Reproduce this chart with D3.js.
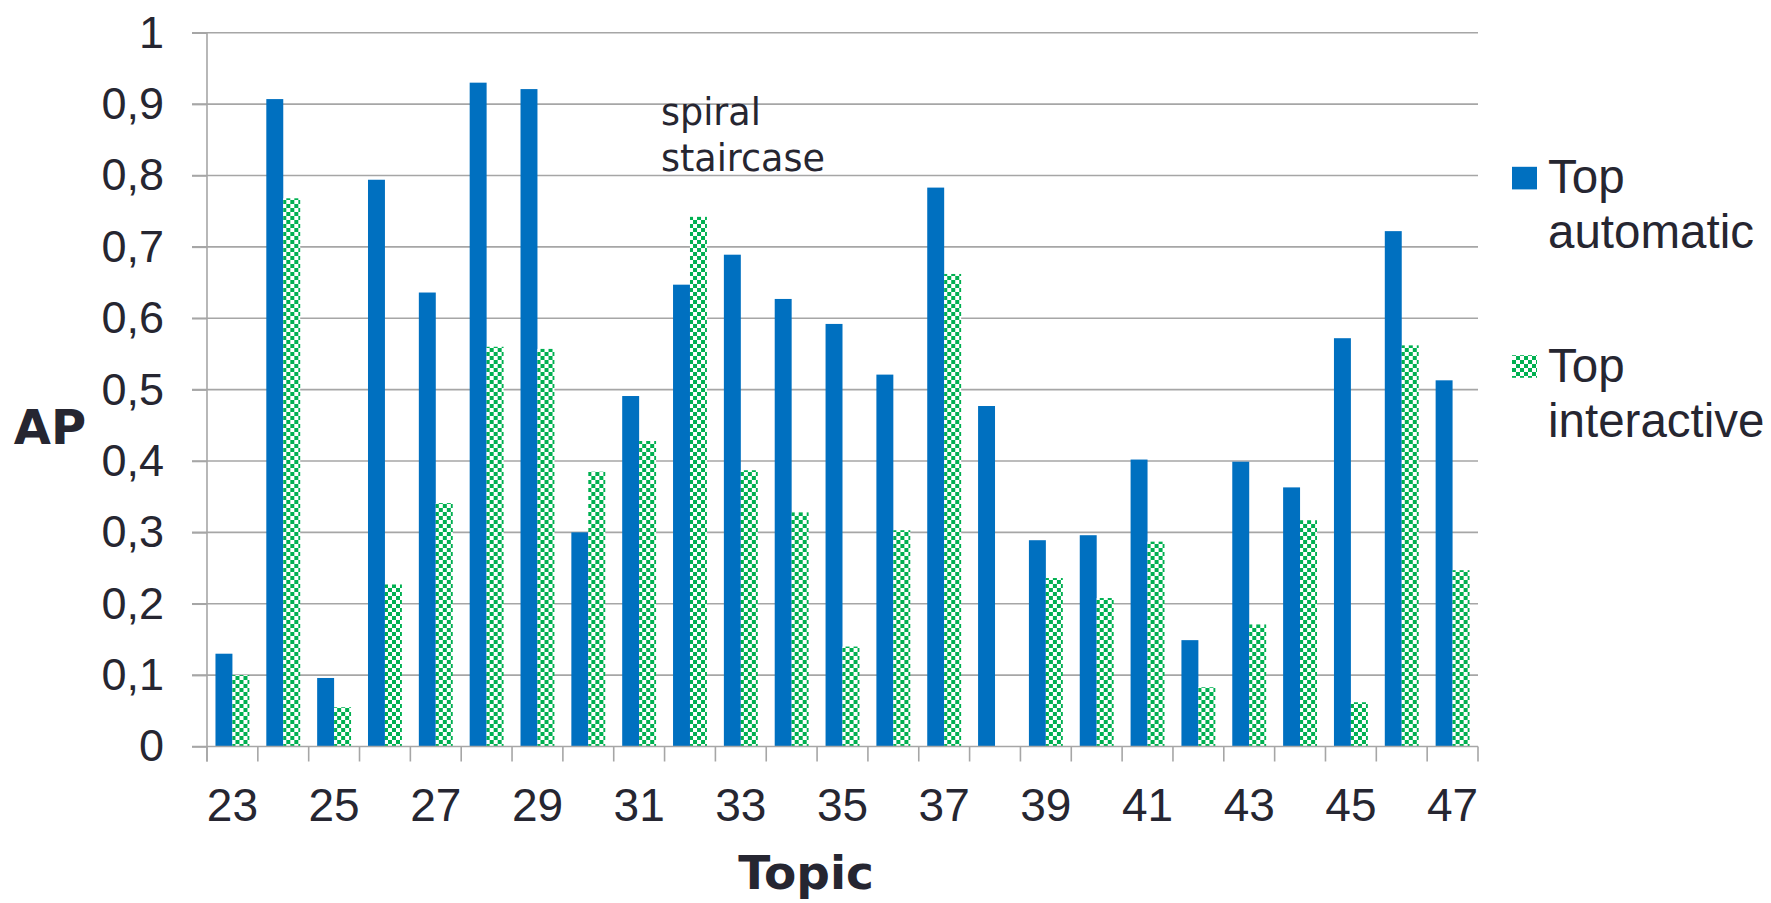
<!DOCTYPE html>
<html>
<head>
<meta charset="utf-8">
<script src="https://cdn.jsdelivr.net/npm/d3@7"></script>
<style>
  html, body { margin: 0; padding: 0; background: #ffffff; }
  svg { display: block; }
</style>
</head>
<body>
<svg id="chart" width="1771" height="903"></svg>
<script>
// Average precision per topic for the two runs
const topics = [23, 24, 25, 26, 27, 28, 29, 30, 31, 32, 33, 34, 35,
                36, 37, 38, 39, 40, 41, 42, 43, 44, 45, 46, 47];
const topAutomatic = [0.130, 0.907, 0.096, 0.794, 0.636, 0.930, 0.921, 0.300, 0.491, 0.647, 0.689, 0.627, 0.592,
                      0.521, 0.783, 0.477, 0.289, 0.296, 0.402, 0.149, 0.399, 0.363, 0.572, 0.722, 0.513];
const topInteractive = [0.100, 0.768, 0.055, 0.227, 0.341, 0.560, 0.557, 0.385, 0.428, 0.742, 0.387, 0.328, 0.140,
                        0.303, 0.662, 0.000, 0.236, 0.208, 0.287, 0.083, 0.171, 0.317, 0.062, 0.562, 0.247];
const seriesNames = ["Top\nautomatic", "Top\ninteractive"];
const yTicks = [0, 0.1, 0.2, 0.3, 0.4, 0.5, 0.6, 0.7, 0.8, 0.9, 1];
const xLabelTopics = [23, 25, 27, 29, 31, 33, 35, 37, 39, 41, 43, 45, 47];
const noteLines = ["spiral", "staircase"];

const BLUE = "#0070c0";
const GREEN = "#00b050";
const GRID = "#a6a6a6";
const TEXT = "#262631";

const svg = d3.select("#chart");

// Plot area
const x0 = 207, x1 = 1478, yTop = 32.7, yBase = 746.5;

const xCat = d3.scaleBand().domain(topics).range([x0, x1]).padding(0);
const xGroup = d3.scaleBand().domain(topics).range([x0, x1])
  .paddingInner(1 / 3).paddingOuter(1 / 6);
const xSeries = d3.scaleBand().domain([0, 1]).range([0, xGroup.bandwidth()]).padding(0);
const y = d3.scaleLinear().domain([0, 1]).range([yBase, yTop]);

const locale = d3.formatLocale({ decimal: ",", thousands: ".", grouping: [3], currency: ["", "€"] });
const fmt = locale.format(".1~f");

// Checkered fill for the interactive series
const defs = svg.append("defs");
const pat = defs.append("pattern")
  .attr("id", "checker")
  .attr("patternUnits", "userSpaceOnUse")
  .attr("width", 8).attr("height", 8);
pat.append("rect").attr("width", 8).attr("height", 8).attr("fill", "#ffffff");
pat.append("rect").attr("x", 0).attr("y", 0).attr("width", 4).attr("height", 4).attr("fill", GREEN);
pat.append("rect").attr("x", 4).attr("y", 4).attr("width", 4).attr("height", 4).attr("fill", GREEN);

// Horizontal gridlines
svg.append("g").selectAll("line")
  .data(yTicks.filter(d => d > 0))
  .join("line")
  .attr("x1", x0 - 15).attr("x2", x1)
  .attr("y1", d => y(d)).attr("y2", d => y(d))
  .attr("stroke", GRID).attr("stroke-width", 1.6);

// Y axis with outward ticks and comma decimals
const yAxis = svg.append("g")
  .attr("transform", `translate(${x0},0)`)
  .call(d3.axisLeft(y).tickValues(yTicks).tickFormat(fmt)
    .tickSizeInner(15).tickSizeOuter(0).tickPadding(28));
yAxis.select(".domain").attr("stroke", GRID).attr("stroke-width", 1.6)
  .attr("d", `M0,${yTop}V${yBase + 15}`);
yAxis.selectAll(".tick line").attr("stroke", GRID).attr("stroke-width", 1.6);
yAxis.selectAll(".tick text")
  .attr("fill", TEXT)
  .style("font-family", "'Liberation Sans', Arial, sans-serif")
  .style("font-size", "45px");

// Bars
const groups = svg.append("g").selectAll("g")
  .data(topics)
  .join("g")
  .attr("transform", d => `translate(${xGroup(d)},0)`);

groups.append("rect")
  .attr("x", xSeries(0))
  .attr("width", xSeries.bandwidth())
  .attr("y", (d, i) => y(topAutomatic[i]))
  .attr("height", (d, i) => yBase - y(topAutomatic[i]))
  .attr("fill", BLUE);

groups.append("rect")
  .attr("x", xSeries(1))
  .attr("width", xSeries.bandwidth())
  .attr("y", (d, i) => y(topInteractive[i]))
  .attr("height", (d, i) => yBase - y(topInteractive[i]))
  .attr("fill", "url(#checker)");

// X axis baseline and category boundary ticks
const xAxis = svg.append("g")
  .attr("transform", `translate(0,${yBase})`)
  .call(d3.axisBottom(xCat).tickValues(xLabelTopics).tickSize(0).tickPadding(0));
xAxis.select(".domain").attr("stroke", GRID).attr("stroke-width", 1.6)
  .attr("d", `M${x0 - 15},0H${x1}`);
xAxis.selectAll(".tick text")
  .attr("y", 74).attr("dy", 0)
  .attr("fill", TEXT)
  .style("font-family", "'Liberation Sans', Arial, sans-serif")
  .style("font-size", "46px");

const bounds = topics.map(t => xCat(t)).concat([x1]);
svg.append("g").selectAll("line")
  .data(bounds)
  .join("line")
  .attr("x1", d => d).attr("x2", d => d)
  .attr("y1", yBase).attr("y2", yBase + 15)
  .attr("stroke", GRID).attr("stroke-width", 1.6);

// Axis titles
svg.append("text")
  .attr("x", 50).attr("y", 443.5)
  .attr("text-anchor", "middle")
  .attr("fill", TEXT)
  .style("font-family", "'DejaVu Sans', Verdana, sans-serif")
  .style("font-weight", "bold")
  .style("font-size", "48px")
  .text("AP");

svg.append("text")
  .attr("x", 806).attr("y", 889)
  .attr("text-anchor", "middle")
  .attr("fill", TEXT)
  .style("font-family", "'DejaVu Sans', Verdana, sans-serif")
  .style("font-weight", "bold")
  .style("font-size", "47px")
  .text("Topic");

// Annotation
const note = svg.append("text")
  .attr("x", 661).attr("y", 125)
  .attr("fill", TEXT)
  .style("font-family", "'DejaVu Sans', Verdana, sans-serif")
  .style("font-size", "36.5px");
note.selectAll("tspan")
  .data(noteLines)
  .join("tspan")
  .attr("x", 661)
  .attr("dy", (d, i) => i === 0 ? 0 : 45.7)
  .text(d => d);

// Legend
const legendFills = [BLUE, "url(#checker)"];
const legendTop = [193.3, 381.7];
const legend = svg.append("g").selectAll("g")
  .data(seriesNames)
  .join("g");
legend.append("rect")
  .attr("x", 1512).attr("width", 25)
  .attr("y", (d, i) => legendTop[i] - 26.5).attr("height", 22.6)
  .attr("fill", (d, i) => legendFills[i]);
const legendText = legend.append("text")
  .attr("x", 1548)
  .attr("y", (d, i) => legendTop[i])
  .attr("fill", TEXT)
  .style("font-family", "'Liberation Sans', Arial, sans-serif")
  .style("font-size", "47.5px");
legendText.selectAll("tspan")
  .data(d => d.split("\n"))
  .join("tspan")
  .attr("x", 1548)
  .attr("dy", (d, i) => i === 0 ? 0 : 55)
  .text(d => d);
</script>
</body>
</html>
